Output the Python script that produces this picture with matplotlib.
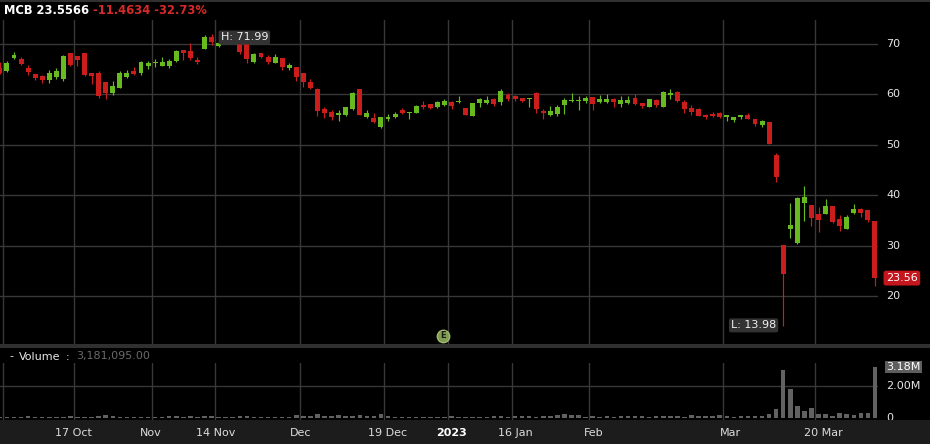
import numpy as np
import matplotlib
matplotlib.use("Agg")
import matplotlib.pyplot as plt
from matplotlib.patches import Rectangle
import matplotlib.transforms as mtransforms

# ---------------- data ----------------
symbol = "MCB"
last_price = "23.5566"
change = "-11.4634"
change_pct = "-32.73%"
volume_text = "3,181,095.00"

# trading-day index (0 = 17 Oct 2022)
day_idx = list(range(-11, 114))

opens = [65.2, 64.7, 67.2, 66.96, 65.2, 64.05, 63.7, 62.86, 63.5, 63.0, 68.15,
         67.6, 68.15, 64.3, 64.2, 62.4, 60.3, 61.3, 63.5, 64.7, 64.2,
         65.7, 66.2, 65.7, 65.7, 66.6, 68.8, 68.7, 66.8, 69.0, 71.33,
         69.6, 70.6, 71.0, 70.13, 70.13, 66.5, 68.15, 67.5, 66.3, 67.16,
         65.2, 65.4, 64.3, 62.5, 61.0, 57.04, 56.57, 55.9, 55.9, 57.04,
         61.0, 55.6, 55.38, 53.6, 55.06, 55.58, 56.9, 56.37, 56.37, 57.9,
         58.1, 57.5, 57.9, 58.56, 58.5, 57.24, 55.78, 58.36, 58.23, 59.1,
         58.43, 59.88, 59.68, 59.35, 59.0, 60.2, 56.71, 55.91, 56.05, 57.9,
         58.7, 58.7, 58.7, 59.4, 58.56, 58.56, 59.1, 58.1, 58.23, 59.35,
         58.23, 57.57, 58.89, 57.57, 59.88, 60.54, 58.56, 57.37, 57.04, 55.9,
         56.1, 56.24, 55.45, 54.92, 55.6, 55.9, 55.05, 53.85, 54.46, 47.97,
         30.12, 33.3, 30.45, 38.52, 38.06, 36.27, 36.27, 37.92, 35.2, 33.3,
         36.4, 37.2, 37.07, 34.88]
highs = [66.5, 66.6, 68.5, 67.5, 65.8, 64.1, 63.85, 64.84, 65.3, 67.8, 68.3,
         67.6, 68.3, 64.3, 64.7, 62.5, 62.7, 64.7, 64.84, 65.4, 66.6,
         66.6, 67.0, 67.5, 67.0, 68.8, 68.8, 70.26, 67.5, 71.8, 71.99,
         70.46, 71.6, 71.4, 70.46, 70.26, 68.15, 68.15, 67.82, 68.0, 67.16,
         66.17, 65.5, 64.3, 63.0, 61.2, 57.56, 56.9, 56.9, 57.56, 60.54,
         61.0, 56.9, 56.25, 55.58, 56.1, 56.57, 57.24, 56.6, 57.9, 58.75,
         58.1, 58.75, 59.0, 58.76, 59.7, 57.24, 58.3, 59.2, 59.7, 59.2,
         61.0, 60.2, 59.88, 59.35, 59.2, 60.54, 57.04, 57.7, 57.9, 59.2,
         60.2, 59.7, 59.7, 59.4, 59.88, 60.1, 59.2, 59.7, 59.7, 60.08,
         58.36, 59.15, 59.02, 60.67, 61.0, 60.67, 58.89, 57.9, 57.24, 56.1,
         56.57, 56.57, 55.9, 55.58, 55.9, 56.37, 55.05, 54.92, 54.55, 48.44,
         30.12, 38.4, 39.58, 41.83, 38.06, 37.6, 39.25, 37.92, 36.07, 36.07,
         38.25, 37.4, 37.1, 34.88]
lows = [64.0, 64.5, 67.0, 65.8, 63.85, 62.9, 62.3, 62.3, 63.0, 62.7, 65.6,
        65.6, 63.65, 62.06, 59.2, 59.0, 59.9, 61.2, 63.2, 63.85, 63.85,
        65.0, 65.5, 65.6, 65.3, 66.5, 66.8, 66.8, 66.0, 68.95, 69.8,
        69.35, 70.3, 70.2, 68.0, 66.17, 66.3, 67.16, 66.0, 66.17, 64.84,
        64.84, 62.7, 61.5, 61.0, 55.7, 55.26, 54.92, 54.8, 55.78, 56.9,
        55.85, 55.26, 54.27, 53.27, 54.8, 55.26, 56.1, 55.06, 56.25, 57.04,
        57.04, 57.24, 57.77, 57.04, 58.36, 55.9, 55.7, 57.57, 58.1, 57.7,
        57.9, 58.7, 58.7, 58.43, 57.57, 56.37, 55.05, 55.7, 55.7, 56.05,
        58.56, 56.9, 58.36, 56.9, 58.36, 58.36, 57.57, 57.57, 58.1, 57.83,
        57.37, 57.43, 57.43, 57.43, 59.02, 58.56, 56.37, 55.9, 55.7, 55.05,
        55.45, 55.38, 54.72, 54.6, 55.05, 55.05, 53.73, 53.5, 50.1, 42.68,
        13.98, 31.44, 30.3, 34.88, 33.89, 32.77, 36.27, 34.55, 32.96, 33.3,
        36.27, 35.61, 34.7, 21.98]
closes = [64.2, 66.2, 67.9, 66.0, 64.5, 63.2, 62.86, 64.2, 64.7, 67.6, 65.8,
          66.8, 63.85, 63.7, 59.74, 60.2, 61.67, 64.2, 64.3, 64.05, 66.5,
          66.2, 66.5, 66.5, 66.7, 68.7, 68.3, 67.16, 66.5, 71.33, 70.46,
          70.26, 71.2, 70.5, 68.35, 66.96, 67.96, 67.5, 66.37, 67.5, 65.4,
          65.83, 63.4, 62.5, 61.2, 56.77, 56.25, 55.45, 56.37, 57.44, 60.22,
          55.9, 56.25, 54.58, 55.45, 55.58, 56.05, 56.37, 56.57, 57.7, 57.56,
          57.24, 58.45, 58.76, 57.7, 58.7, 55.9, 58.23, 59.1, 58.89, 58.1,
          60.68, 59.1, 59.0, 58.7, 59.1, 57.04, 56.24, 56.71, 57.57, 58.89,
          58.89, 58.89, 59.35, 58.03, 59.1, 59.1, 58.56, 58.89, 58.89, 58.03,
          57.7, 59.02, 57.9, 60.54, 60.2, 58.76, 57.1, 56.57, 55.78, 55.58,
          55.78, 55.58, 55.9, 55.58, 55.9, 55.12, 54.06, 54.75, 50.16, 43.55,
          24.36, 34.09, 39.38, 39.71, 35.41, 35.08, 37.86, 34.6, 33.96, 35.74,
          37.2, 36.53, 35.02, 23.5566]
volumes_m = [0.08, 0.09, 0.10, 0.08, 0.12, 0.09, 0.08, 0.10, 0.09, 0.11, 0.12,
             0.10, 0.10, 0.09, 0.12, 0.20, 0.12, 0.10, 0.09, 0.08, 0.10,
             0.08, 0.09, 0.10, 0.12, 0.12, 0.10, 0.13, 0.09, 0.12, 0.13,
             0.09, 0.10, 0.08, 0.12, 0.12, 0.10, 0.09, 0.08, 0.08, 0.10,
             0.08, 0.18, 0.12, 0.12, 0.27, 0.14, 0.12, 0.19, 0.12, 0.15,
             0.20, 0.12, 0.14, 0.26, 0.14, 0.10, 0.08, 0.08, 0.08, 0.10,
             0.08, 0.09, 0.10, 0.12, 0.08, 0.09, 0.08, 0.09, 0.10, 0.12,
             0.12, 0.10, 0.12, 0.14, 0.14, 0.10, 0.14, 0.15, 0.20, 0.26,
             0.20, 0.20, 0.10, 0.12, 0.11, 0.12, 0.11, 0.14, 0.12, 0.12,
             0.12, 0.11, 0.12, 0.14, 0.12, 0.12, 0.10, 0.18, 0.12, 0.12,
             0.14, 0.18, 0.12, 0.10, 0.12, 0.12, 0.12, 0.12, 0.25, 0.58,
             2.99, 1.81, 0.76, 0.45, 0.64, 0.25, 0.25, 0.17, 0.31, 0.25,
             0.19, 0.31, 0.33, 3.18]

price_ticks = [20, 30, 40, 50, 60, 70]
vol_ticks = [0, 2.0]
vol_tick_labels = ["0", "2.00M"]
last_vol_label = "3.18M"

tick_idx = [0, 11, 20, 32, 44, 53, 62, 73, 92, 105]
tick_labels = ["17 Oct", "Nov", "14 Nov", "Dec", "19 Dec", "2023",
               "16 Jan", "Feb", "Mar", "20 Mar"]
unlabeled_grid_idx = [-10]
high_idx, high_val = 19, 71.99
low_idx, low_val = 100, 13.98
earnings_idx = 52

# ---------------- style ----------------
W, H = 930, 444
GREEN = "#68bb1e"
RED = "#cc1d1d"
GRID = "#383838"
TXT = "#e6e6e6"
label_nudge_px = [-4.5, -4.5, -3, -2.5, 0, 0.5, 0, 1.5, 4, 5]

plt.rcParams["font.family"] = ["DejaVu Sans"]

fig = plt.figure(figsize=(W / 100, H / 100), dpi=100, facecolor="black")


def fy(py):
    return 1 - py / H


def fx(px):
    return px / W


x = np.array(day_idx, dtype=float)
o = np.array(opens)
h = np.array(highs)
l = np.array(lows)
c = np.array(closes)
v = np.array(volumes_m)
cols = np.where(c >= o, GREEN, RED)

PLOT_R = 878
ax = fig.add_axes([0, fy(344), fx(PLOT_R), (344 - 20) / H])
ax.set_facecolor("black")
ax.set_xlim(-10.98, 113.43)
ax.set_ylim(10.48, 74.76)
for s in ax.spines.values():
    s.set_visible(False)
ax.set_xticks([])
ax.set_yticks([])

for p in price_ticks:
    ax.axhline(p, color=GRID, lw=1, zorder=0)
for t in tick_idx + unlabeled_grid_idx:
    ax.axvline(t - 0.5, color=GRID, lw=1, zorder=0)

ax.vlines(x, l, h, colors=cols, lw=0.85, zorder=2)
body_bottom = np.minimum(o, c)
body_h = np.maximum(np.abs(c - o), 0.22)
ax.bar(x, body_h, bottom=body_bottom, width=0.7, color=cols, linewidth=0, zorder=3)

ytr = ax.get_yaxis_transform()
lab_x = (886) / PLOT_R
for p in price_ticks:
    ax.text(lab_x, p, str(p), transform=ytr, color=TXT, fontsize=8,
            ha="left", va="center", clip_on=False)

# last price tag
ax.text(lab_x, float(closes[-1]), f"{closes[-1]:.2f}", transform=ytr, color="white",
        fontsize=8, ha="left", va="center", clip_on=False,
        bbox=dict(boxstyle="round,pad=0.22", fc="#c4161c", ec="none"))

# high / low tags
ax.annotate(f"H: {high_val:.2f}", xy=(high_idx, high_val), xytext=(9, -3.5),
            textcoords="offset pixels", ha="left", va="center", color="#f0f0f0",
            fontsize=8, zorder=10,
            bbox=dict(boxstyle="round,pad=0.18", fc="#333333", ec="none"))
ax.annotate(f"L: {low_val:.2f}", xy=(low_idx, low_val), xytext=(-7, 1),
            textcoords="offset pixels", ha="right", va="center", color="#f0f0f0",
            fontsize=8, zorder=10,
            bbox=dict(boxstyle="round,pad=0.18", fc="#333333", ec="none"))

# earnings marker
etr = mtransforms.blended_transform_factory(ax.transData, ax.transAxes)
ax.scatter([earnings_idx - 0.2], [(344 - 336) / 324], s=80, transform=etr,
           facecolor="#7f9c4f", edgecolor="#9fb872", lw=1, zorder=6, clip_on=False)
ax.text(earnings_idx - 0.2, (344 - 336) / 324, "E", transform=etr, color="#1a1a1a",
        fontsize=6, fontweight="bold", ha="center", va="center", zorder=7)

# ---------------- volume ----------------
vax = fig.add_axes([0, fy(420), fx(PLOT_R), (420 - 363) / H])
vax.set_facecolor("black")
vax.set_xlim(ax.get_xlim())
vax.set_ylim(-0.1, 3.42)
for s in vax.spines.values():
    s.set_visible(False)
vax.set_xticks([])
vax.set_yticks([])
vax.axhline(2.0, color=GRID, lw=1, zorder=0)
for t in tick_idx + unlabeled_grid_idx:
    vax.axvline(t - 0.5, color=GRID, lw=1, zorder=0)
vax.bar(x, v, width=0.64, color="#626262", linewidth=0, zorder=2)

vytr = vax.get_yaxis_transform()
for val, txt in zip(vol_ticks, vol_tick_labels):
    vax.text(lab_x, val, txt, transform=vytr, color=TXT, fontsize=8,
             ha="left", va="center", clip_on=False)
vax.text(lab_x, v[-1], last_vol_label, transform=vytr, color="white", fontsize=8,
         ha="left", va="center", clip_on=False,
         bbox=dict(boxstyle="square,pad=0.12", fc="#5e5e5e", ec="none"))

# ---------------- frame pieces ----------------
fig.patches.append(Rectangle((0, fy(2)), 1, 2 / H, transform=fig.transFigure,
                             fc="#303030", ec="none"))
fig.patches.append(Rectangle((0, fy(347.5)), 1, 3.5 / H, transform=fig.transFigure,
                             fc="#303030", ec="none"))
fig.patches.append(Rectangle((0, 0), 1, (444 - 420) / H, transform=fig.transFigure,
                             fc="#1c1c1c", ec="none"))

# header
fig.text(fx(4), fy(10.5), f"{symbol} {last_price}", color="white", fontsize=8.3,
         fontweight="bold", ha="left", va="center")
fig.text(fx(93), fy(10.5), f"{change} {change_pct}", color="#d42a2a", fontsize=8.3,
         fontweight="bold", ha="left", va="center")

# volume legend
fig.text(fx(9), fy(356.5), "-", color=TXT, fontsize=8, ha="left", va="center")
fig.text(fx(19), fy(356.5), "Volume", color=TXT, fontsize=8, ha="left", va="center")
fig.text(fx(66), fy(356.5), ":", color=TXT, fontsize=8, ha="left", va="center")
fig.text(fx(76), fy(356.5), volume_text, color="#6a6a6a", fontsize=8, ha="left", va="center")

# x labels
for t, lab, nud in zip(tick_idx, tick_labels, label_nudge_px):
    px = 77.5 + 7.057 * (t - 0.5) + 3.5 + nud
    fig.text(fx(px), fy(433), lab, color="white" if lab == "2023" else "#dcdcdc",
             fontsize=8, fontweight="bold" if lab == "2023" else "normal",
             ha="center", va="center")

fig.savefig("out.png", dpi=100, facecolor="black")
